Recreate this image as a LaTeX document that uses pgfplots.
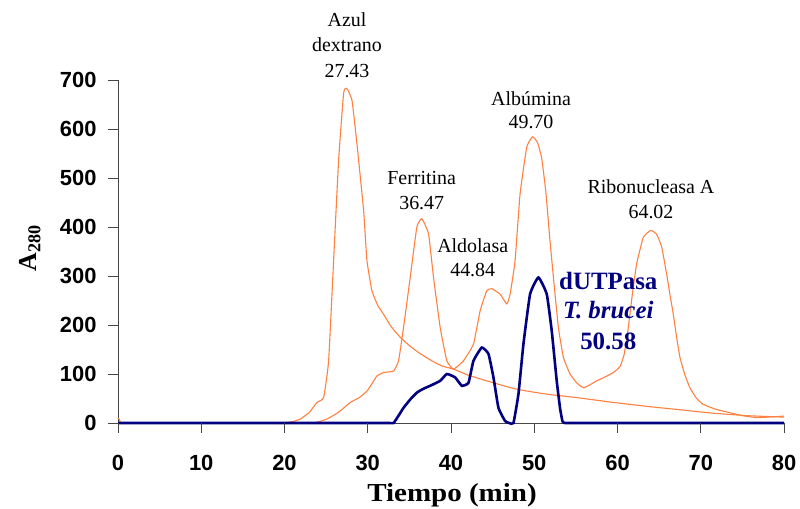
\documentclass[border=0pt]{standalone}
\usepackage{pgfplots}
\pgfplotsset{compat=1.18}
\usepackage{fontspec}
\setmainfont{Liberation Serif}
\setsansfont{Liberation Sans}
\definecolor{orng}{RGB}{255,128,64}
\definecolor{navyb}{RGB}{0,0,128}
\definecolor{axgray}{RGB}{70,70,70}
\begin{document}
\begin{tikzpicture}
\path (0bp,0bp) rectangle (800bp,509bp);
\begin{axis}[
  at={(118bp,86bp)}, anchor=south west,
  scale only axis, width=666bp, height=343bp,
  xmin=0, xmax=80, ymin=0, ymax=700,
  xtick={0,10,...,80}, ytick={0,100,...,700},
  axis lines=left,
  xmajorticks=true, ymajorticks=true, tick pos=left,
  tick align=outside, major tick length=10bp,
  axis line style={axgray, line width=0.9bp, -},
  major tick style={draw=axgray, line width=0.9bp},
  /pgf/number format/assume math mode=true,
  ticklabel style={font=\fontsize{22}{24}\sffamily\bfseries},
  xticklabel style={yshift=-19bp},
  yticklabel style={xshift=-8bp},
  clip=false,
]
\addplot[orng, line width=1.1bp, smooth, tension=0.25] coordinates {
(0,0) (10,0) (18,0) (19,0) (19.8,0) (21,3) (21.9,8) (23,22) (23.9,42) (24.7,52) (25.3,127) (25.9,332)
(26.5,536) (27.1,673) (27.47,683) (28.1,659) (28.7,570) (29.5,434) (29.9,332)
(30.5,270) (31.2,240) (31.9,222) (32.8,197) (33.9,175) (35,158) (36,145) (37,134)
(38,124) (39,116) (40.3,110) (42,98) (43.9,88) (45.9,78) (47.9,69) (49.9,63)
(51.9,58) (55,52) (59.5,42) (63.5,34) (67.5,27) (71.5,20) (75.5,15) (80,12)
};
\addplot[orng, line width=1.1bp] coordinates {(0,10) (0.15,8) (0.3,0) (1,0)};
\addplot[orng, line width=1.1bp, smooth, tension=0.25] coordinates {
(1,0) (10,0) (20,0) (22,0) (22.8,0) (23.4,0) (24.2,3) (25.1,8) (26.5,22) (27.9,42) (29,52) (29.9,65)
(30.5,80) (31.1,96) (31.9,103) (33.1,106) (33.7,127) (34.3,195) (35.1,297)
(35.9,400) (36.5,417) (37.3,386) (37.9,297) (38.7,195) (39.5,127) (40.3,110)
(41.5,127) (42.7,161) (43.5,229) (44.3,270) (44.9,274) (45.9,263) (46.7,243)
(47.1,263) (47.7,332) (48.3,468) (49.1,563) (49.8,584) (50.4,572) (50.9,540) (51.4,470)
(51.9,370) (52.4,280) (52.9,195) (53.5,134) (54.3,100) (55.1,82) (55.9,72) (56.7,78) (57.5,86) (58.5,94) (59.5,103)
(60.3,115) (60.8,140) (61.3,195) (61.8,265) (62.3,325) (63.1,379) (64.0,393) (64.7,385) (65.3,360) (65.9,304)
(66.3,262) (66.7,222) (67.1,175) (67.5,134) (68.1,98) (68.7,72) (69.5,50) (70.3,38) (71.8,28) (73.5,21) (75,15) (76.7,11)
(78,12) (80,14)
};
\addplot[navyb, line width=2.6bp, smooth, tension=0.25] coordinates {
(0,0) (10,0) (20,0) (30,0) (32,0) (32.6,0) (33.1,0) (33.7,15) (34.3,31) (35.1,48) (35.9,62) (36.7,70) (37.5,76) (38.7,86) (39.5,100) (40.5,93)
(41.3,76) (42.1,82) (42.7,127) (43.7,154) (44.5,141) (45.1,93) (45.7,31)
(46.5,4) (47,0) (47.5,0) (48.1,59) (48.7,161) (49.5,263) (50.5,297) (51.5,263)
(52.1,188) (52.7,86) (53.1,30) (53.4,3) (53.7,0) (54.2,0) (55,0) (60,0) (70,0) (80,0)
};
\pgfplotsinvokeforeach{0,10,20,30,40,50,60,70,80}{
  \draw[axgray, line width=0.9bp] (axis cs:#1,0) -- ++(0bp,-10bp);
}
\pgfplotsinvokeforeach{0,100,200,300,400,500,600,700}{
  \draw[axgray, line width=0.9bp] (axis cs:0,#1) -- ++(-10bp,0bp);
}
\end{axis}
\begin{scope}[every node/.style={anchor=base, inner sep=0pt, font=\fontsize{20}{24}\selectfont}]
\node at (347bp,482bp) {Azul};
\node at (347bp,457bp) {dextrano};
\node at (347bp,431bp) {27.43};
\node at (421.7bp,324bp) {Ferritina};
\node at (421.7bp,299bp) {36.47};
\node at (472.7bp,256.3bp) {Aldolasa};
\node at (472.7bp,232.3bp) {44.84};
\node at (531bp,403.3bp) {Albúmina};
\node at (531bp,380.7bp) {49.70};
\node at (651bp,315.7bp) {Ribonucleasa A};
\node at (651bp,290.7bp) {64.02};
\end{scope}
\begin{scope}[every node/.style={anchor=base, inner sep=0pt, text=navyb, font=\fontsize{25}{28}\bfseries}]
\node at (608.3bp,219bp) {dUTPasa};
\node at (608.3bp,190.7bp) {\itshape T. brucei};
\node at (608.3bp,159bp) {50.58};
\end{scope}
\node[rotate=90, inner sep=0pt, font=\fontsize{26}{30}\bfseries] at (30bp,261bp) {A\textsubscript{280}};
\node[inner sep=0pt, font=\fontsize{26}{30}\bfseries] at (452bp,14bp) {\scalebox{1.12}[1]{Tiempo (min)}};
\end{tikzpicture}
\end{document}
